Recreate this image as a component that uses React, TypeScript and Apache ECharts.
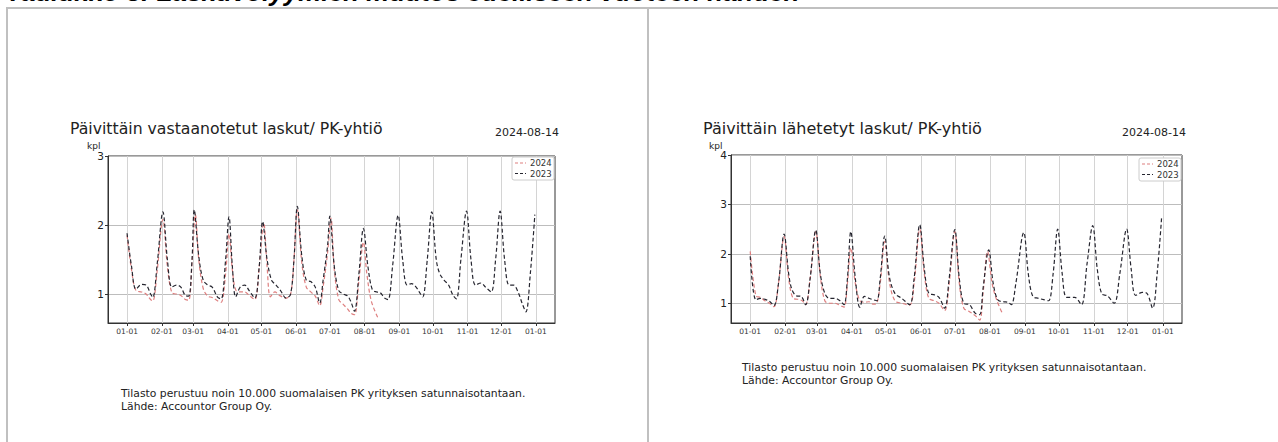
import React, { useEffect, useRef } from "react";
import * as echarts from "echarts";

// ---- axis ticks ----
const monthStarts = [0, 31, 59, 90, 120, 151, 181, 212, 243, 273, 304, 334, 365];
const monthLabels = ["01-01", "02-01", "03-01", "04-01", "05-01", "06-01", "07-01", "08-01", "09-01", "10-01", "11-01", "12-01", "01-01"];
const leftYTicks = [1, 2, 3];
const rightYTicks = [1, 2, 3, 4];

// ---- texts ----
const heading = "Taulukko 8: Laskuvolyymien muutos edelliseen vuoteen nähden";
const leftTitle = "Päivittäin vastaanotetut laskut/ PK-yhtiö";
const rightTitle = "Päivittäin lähetetyt laskut/ PK-yhtiö";
const dateText = "2024-08-14";
const unitText = "kpl";
const sourceLine1 = "Tilasto perustuu noin 10.000 suomalaisen PK yrityksen satunnaisotantaan.";
const sourceLine2 = "Lähde: Accountor Group Oy.";
const seriesNames = ["2024", "2023"];

// ---- received invoices (day of year, thousands) ----
const received2023: [number, number][] = [
  [0, 1.88], [4, 1.4], [8, 1.07], [13, 1.14], [17, 1.13], [21, 1.0], [23, 0.95], [27, 1.45],
  [32, 2.19], [36, 1.5], [40, 1.1], [44, 1.13], [48, 1.1], [52, 0.98], [55, 0.97], [58, 1.5],
  [60, 2.22], [64, 1.55], [68, 1.2], [72, 1.13], [76, 1.1], [81, 0.95], [84, 0.93], [88, 1.5],
  [91, 2.12], [94, 1.4], [97, 0.96], [101, 1.1], [105, 1.13], [109, 1.05], [114, 0.94], [118, 1.4],
  [121, 2.05], [125, 1.5], [129, 1.2], [133, 1.13], [137, 1.05], [142, 0.94], [146, 1.0], [149, 1.5],
  [152, 2.27], [156, 1.55], [160, 1.2], [164, 1.18], [168, 1.1], [172, 0.87], [175, 1.2], [179, 1.7],
  [181, 2.13], [185, 1.4], [189, 1.05], [193, 1.0], [197, 0.97], [200, 0.88], [203, 0.75], [207, 1.3],
  [211, 1.95], [215, 1.4], [219, 1.06], [223, 1.03], [226, 1.02], [230, 0.94], [233, 0.92], [237, 1.4],
  [242, 2.14], [246, 1.5], [250, 1.13], [254, 1.15], [258, 1.1], [262, 1.0], [264, 0.96], [268, 1.5],
  [272, 2.19], [276, 1.5], [279, 1.3], [283, 1.2], [287, 1.13], [291, 0.98], [294, 0.93], [298, 1.5],
  [303, 2.2], [307, 1.5], [311, 1.13], [316, 1.16], [320, 1.1], [325, 1.03], [329, 1.5],
  [333, 2.2], [337, 1.5], [341, 1.13], [345, 1.13], [349, 1.03], [353, 0.85], [356, 0.74], [360, 1.3], [364, 2.15],
];
const received2024: [number, number][] = [
  [0, 1.85], [4, 1.35], [8, 1.05], [13, 1.03], [17, 1.0], [21, 0.92], [23, 0.9], [27, 1.35],
  [32, 2.08], [36, 1.4], [40, 1.02], [44, 1.0], [48, 0.98], [52, 0.92], [55, 0.91], [58, 1.45],
  [61, 2.15], [64, 1.5], [68, 1.08], [72, 0.97], [76, 0.95], [81, 0.9], [84, 0.88], [88, 1.3],
  [91, 1.87], [94, 1.35], [97, 1.06], [101, 1.03], [105, 1.03], [109, 0.98], [114, 0.92], [118, 1.4],
  [122, 2.03], [125, 1.4], [128, 0.96], [132, 1.03], [136, 0.98], [142, 0.94], [146, 1.0], [149, 1.5],
  [152, 2.22], [156, 1.45], [160, 1.1], [164, 1.03], [168, 0.97], [172, 0.83], [175, 1.1], [179, 1.6],
  [182, 2.1], [185, 1.35], [189, 0.92], [193, 0.85], [197, 0.78], [200, 0.72], [203, 0.7], [207, 1.2],
  [211, 1.75], [214, 1.3], [218, 0.9], [224, 0.65],
];

// ---- sent invoices ----
const sent2023: [number, number][] = [
  [0, 1.95], [5, 1.07], [9, 1.1], [13, 1.08], [17, 1.04], [21, 0.95], [25, 1.4],
  [30, 2.4], [34, 1.6], [37, 1.27], [41, 1.15], [45, 1.14], [49, 0.97], [53, 1.5],
  [58, 2.48], [62, 1.6], [66, 1.2], [70, 1.1], [75, 1.1], [80, 1.04], [83, 0.97], [86, 1.5],
  [89, 2.45], [93, 1.5], [97, 0.92], [101, 1.14], [105, 1.1], [109, 1.07], [112, 1.05], [115, 1.5],
  [119, 2.36], [123, 1.55], [128, 1.2], [134, 1.1], [141, 0.97], [145, 1.5],
  [150, 2.59], [154, 1.7], [158, 1.2], [163, 1.17], [167, 1.12], [172, 0.9], [176, 1.5],
  [181, 2.49], [185, 1.5], [189, 1.0], [194, 0.97], [199, 0.8], [203, 0.77], [206, 1.3],
  [211, 2.08], [215, 1.4], [219, 1.07], [224, 1.03], [228, 1.02], [231, 0.97], [235, 1.4],
  [242, 2.43], [246, 1.6], [250, 1.14], [255, 1.1], [260, 1.07], [264, 1.05], [268, 1.6],
  [272, 2.5], [276, 1.6], [280, 1.12], [287, 1.12], [293, 0.97], [298, 1.8],
  [303, 2.57], [307, 1.7], [311, 1.19], [316, 1.15], [322, 1.0], [327, 1.6],
  [333, 2.5], [337, 1.7], [341, 1.16], [347, 1.22], [351, 1.2], [356, 0.9], [360, 1.6], [364, 2.75],
];
const sent2024: [number, number][] = [
  [0, 2.05], [5, 1.15], [9, 1.12], [13, 1.05], [17, 1.0], [21, 0.93], [25, 1.4],
  [30, 2.35], [34, 1.5], [38, 1.1], [42, 1.08], [46, 1.05], [49, 0.97], [53, 1.5],
  [58, 2.45], [62, 1.55], [66, 1.05], [70, 1.0], [75, 1.0], [80, 0.95], [83, 0.92], [86, 1.4],
  [89, 2.12], [93, 1.4], [97, 1.05], [101, 1.02], [105, 1.03], [109, 0.98], [112, 1.0], [115, 1.4],
  [119, 2.25], [123, 1.45], [128, 1.05], [134, 1.0], [141, 0.96], [145, 1.4],
  [150, 2.5], [154, 1.6], [158, 1.1], [163, 1.05], [167, 1.0], [172, 0.85], [176, 1.4],
  [181, 2.45], [185, 1.4], [189, 0.9], [194, 0.83], [199, 0.75], [203, 0.66], [206, 1.2],
  [210, 2.05], [214, 1.4], [218, 1.07], [223, 0.8],
];

const FONT = "DejaVu Sans";
const RED = "#de7f7f";
const BLACK = "#262630";
const seriesColors = [RED, BLACK];
const DASH = [4, 2.5];

function xAxisCfg(gridIndex: number) {
  return {
    type: "value",
    gridIndex,
    min: -17,
    max: 382,
    axisLine: { show: true, onZero: false, lineStyle: { color: "#333", width: 1 } },
    axisTick: { show: true, customValues: monthStarts, length: 3, lineStyle: { color: "#333" } },
    axisLabel: {
      customValues: monthStarts,
      formatter: (v: number) => {
        const i = monthStarts.indexOf(Math.round(v));
        return i >= 0 ? monthLabels[i] : "";
      },
      fontSize: 7.5,
      fontFamily: FONT,
      color: "#333",
      margin: 4,
    },
    splitLine: { show: true, lineStyle: { color: "#d4d4d4", width: 1 } },
  };
}

function yAxisCfg(gridIndex: number, min: number, max: number, ticks: number[]) {
  return {
    type: "value",
    gridIndex,
    min,
    max,
    axisLine: { show: true, onZero: false, lineStyle: { color: "#333", width: 1 } },
    axisTick: { show: true, customValues: ticks, length: 3, lineStyle: { color: "#333" } },
    axisLabel: { customValues: ticks, fontSize: 10.5, fontFamily: FONT, color: "#222", margin: 4 },
    splitLine: { show: true, lineStyle: { color: "#bdbdbd", width: 1 } },
  };
}

function lineSeries(name: string, data: [number, number][], idx: number, color: string) {
  return {
    type: "line",
    name,
    xAxisIndex: idx,
    yAxisIndex: idx,
    data,
    symbol: "none",
    smooth: 0.35,
    lineStyle: { color, width: 1.2, type: DASH },
    itemStyle: { color },
  };
}

function legendGraphic(x: number, y: number) {
  const items: any[] = [
    {
      type: "rect",
      shape: { x, y, width: 42, height: 23, r: 2 },
      style: { fill: "#ffffff", stroke: "#cccccc", lineWidth: 1 },
      z: 100,
    },
  ];
  seriesNames.forEach((name, i) => {
    const cy = y + 6 + i * 10.5;
    items.push({
      type: "line",
      shape: { x1: x + 3, y1: cy, x2: x + 14, y2: cy },
      style: { stroke: seriesColors[i], lineWidth: 1.2, lineDash: [3, 2] },
      z: 101,
    });
    items.push({
      type: "text",
      x: x + 18,
      y: cy,
      style: { text: name, fontSize: 8.5, fontFamily: FONT, fill: "#333", verticalAlign: "middle" },
      z: 101,
    });
  });
  return items;
}

function txt(text: string, x: number, y: number, size: number) {
  return {
    type: "text",
    x,
    y,
    style: { text, fontSize: size, fontFamily: FONT, fill: "#222", verticalAlign: "middle" },
  };
}

export default function App() {
  const ref = useRef<HTMLDivElement>(null);
  useEffect(() => {
    if (!ref.current) return;
    const chart = echarts.init(ref.current, null, { renderer: "svg" });
    chart.setOption({
      animation: false,
      backgroundColor: "#ffffff",
      grid: [
        { left: 108, top: 156, width: 447, height: 167, show: true, borderColor: "#333", borderWidth: 1 },
        { left: 731, top: 155, width: 451, height: 168, show: true, borderColor: "#333", borderWidth: 1 },
      ],
      xAxis: [xAxisCfg(0), xAxisCfg(1)],
      yAxis: [yAxisCfg(0, 0.58, 3, leftYTicks), yAxisCfg(1, 0.6, 4, rightYTicks)],
      series: [
        lineSeries(seriesNames[0], received2024, 0, RED),
        lineSeries(seriesNames[1], received2023, 0, BLACK),
        lineSeries(seriesNames[0], sent2024, 1, RED),
        lineSeries(seriesNames[1], sent2023, 1, BLACK),
      ],
      graphic: [
        {
          type: "text",
          x: 6,
          y: -21,
          style: {
            text: heading,
            font: 'italic bold 26px "Liberation Sans"',
            fill: "#000",
            verticalAlign: "top",
          },
        },
        { type: "line", shape: { x1: 6, y1: 8, x2: 1278, y2: 8 }, style: { stroke: "#c0c0c0", lineWidth: 2 } },
        { type: "line", shape: { x1: 7, y1: 8, x2: 7, y2: 442 }, style: { stroke: "#c0c0c0", lineWidth: 2 } },
        { type: "line", shape: { x1: 648, y1: 8, x2: 648, y2: 442 }, style: { stroke: "#c0c0c0", lineWidth: 2 } },
        txt(leftTitle, 70, 128, 15.7),
        txt(dateText, 495, 132, 11),
        txt(unitText, 87, 146, 9),
        txt(rightTitle, 703, 128, 16),
        txt(dateText, 1122, 132, 11),
        txt(unitText, 709, 146, 9),
        txt(sourceLine1, 121, 393, 10.8),
        txt(sourceLine2, 121, 406, 10.8),
        txt(sourceLine1, 742, 367, 10.8),
        txt(sourceLine2, 742, 380, 10.8),
        ...legendGraphic(512, 157),
        ...legendGraphic(1139, 158),
      ],
    });
    return () => chart.dispose();
  }, []);
  return (
    <div
      ref={ref}
      style={{ position: "fixed", left: 0, top: 0, width: 1278, height: 442, background: "#fff" }}
    />
  );
}
